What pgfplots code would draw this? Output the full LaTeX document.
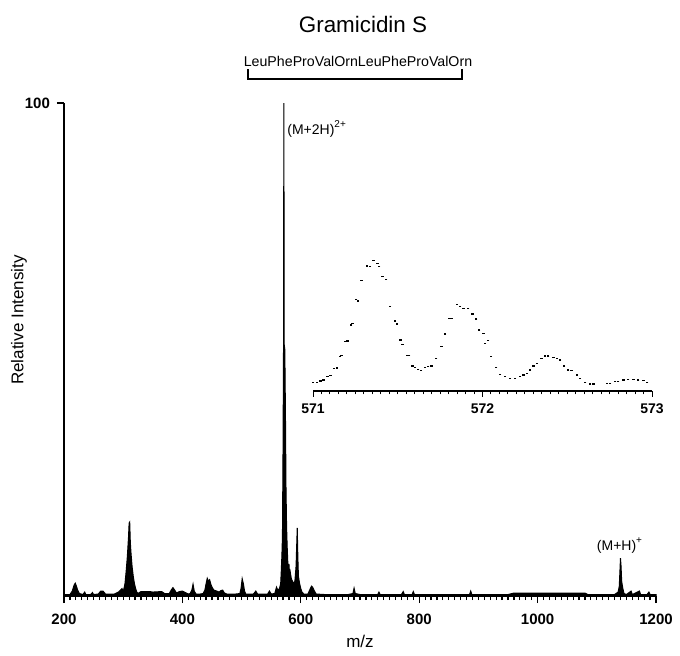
\documentclass[border=0pt]{standalone}
\usepackage{fontspec}
\setmainfont{Liberation Sans}
\usepackage{pgfplots}
\pgfplotsset{compat=1.18}
\begin{document}
\begin{tikzpicture}
\begin{axis}[
  at={(0,0)}, anchor=south west,
  scale only axis, width=296pt, height=246.5pt,
  xmin=200, xmax=1200, ymin=0, ymax=100,
  axis x line*=bottom, axis y line*=left,
  axis line style={line width=1pt},
  xtick={200,400,...,1200}, minor x tick num=19,
  ytick={100},
  tick align=outside,
  major tick length=3.5pt, minor tick length=2pt,
  every tick/.style={black, line width=0.6pt},
  /pgf/number format/1000 sep={},
  /pgf/number format/assume math mode=true,
  tick label style={font=\fontsize{7.5}{9}\selectfont\bfseries},
  xticklabel style={yshift=-2pt},
  clip=false,
]
\addplot[black, line width=0.5pt, fill=black, sharp plot] coordinates {
(200,0.3)(210,0.3)(214,1)(217,2.2)(219,2.6)(221,2)(223,1.2)(226,0.5)(232,0.3)(235,0.8)(237,0.3)
(245,0.3)(248,0.7)(250,0.3)(258,0.4)(262,1.0)(266,1.0)(270,0.4)(285,0.4)(292,0.8)(298,1.5)
(300,0.8)(303,2.5)(305,5)(307,8)(309,12)(310,14.8)(311,15)(312,11)(313,9)(315,6)(317,4)(319,2.5)(321,1.5)(323,0.8)(325,0.5)
(326,0.6)(330,0.9)(345,0.9)(350,0.8)(365,0.9)(370,0.5)
(378,0.5)(381,1.2)(384,1.7)(387,1.2)(390,0.6)(395,0.9)(400,1.0)(405,0.7)
(410,0.4)(413,0.5)(416,1.2)(418,2.4)(420,1.0)(423,0.4)(430,0.4)
(435,0.5)(438,1.2)(440,2.5)(442,3.6)(444,3.0)(446,3.3)(448,2.4)(450,1.8)(453,1.2)(458,1.0)(462,0.8)(465,1.1)(468,1.2)(471,0.6)
(475,0.4)(490,0.4)(497,0.5)(499,1.5)(501,3.5)(503,2.5)(505,1.0)(507,0.4)
(520,0.4)(524,1.0)(527,0.4)(544,0.4)(547,1.0)(550,0.4)
(556,0.5)(559,1.8)(561,1.2)(564,1.5)(566,2.5)(567,5)(568,8)(569,12)(570,30)(570.8,50)(571.4,100)(572,51)(573,50)(574,38)(575,22)(576,14)(577,10)
(578,7)(579,5.5)(580,6.5)(581,4.5)(582,5)(584,3.5)(586,3)(588,2.5)(590,3)(592,6)(593,10)(594,13.8)(595,8)(596,4)(598,2.5)(600,1.5)(602,0.8)(605,0.4)
(612,0.4)(615,1.2)(618,2)(620,1.8)(623,1)(626,0.4)(640,0.3)(660,0.3)(680,0.3)(688,0.5)(690,1.6)(692,0.5)(700,0.3)
(730,0.3)(732,0.8)(734,0.3)(770,0.3)(773,0.9)(775,0.3)(788,0.3)(790,0.9)(792,0.3)(850,0.3)(885,0.3)(887,1)(889,0.3)
(950,0.3)(960,0.6)(1080,0.6)(1085,0.3)(1130,0.3)(1136,0.8)(1138,2)(1140,7.7)(1141,6)(1142,3)(1144,1.5)(1146,0.5)(1150,0.3)
(1158,1)(1160,0.3)(1172,1)(1174,0.3)(1185,0.3)(1188,0.8)(1190,0.3)(1200,0.3)
} \closedcycle;
\end{axis}

\begin{axis}[
  at={(124.5pt,102.65pt)}, anchor=south west,
  scale only axis, width=169.5pt, height=66.7pt,
  xmin=571, xmax=573, ymin=0, ymax=400,
  axis x line*=bottom, axis y line=none,
  axis line style={line width=1pt},
  xtick={571,572,573}, minor x tick num=19,
  tick align=outside,
  major tick length=3pt, minor tick length=1.8pt,
  every tick/.style={black, line width=0.5pt},
  /pgf/number format/1000 sep={},
  /pgf/number format/assume math mode=true,
  tick label style={font=\fontsize{7}{8}\selectfont\bfseries},
  clip=false,
]
\addplot[only marks, mark=-, mark size=0.6pt, mark options={line width=0.7pt, black}] coordinates {
(571.00,24)(571.022,25)(571.045,29)(571.061,32)(571.085,42)(571.104,45)(571.124,67)(571.140,68)
(571.159,102)(571.169,105)(571.189,147)(571.203,149)(571.224,197)(571.232,202)(571.254,274)(571.264,269)
(571.287,330)(571.317,374)(571.336,372)(571.356,390)(571.380,382)(571.391,372)(571.411,342)(571.431,334)
(571.454,252)(571.484,209)(571.494,200)(571.517,152)(571.529,139)(571.553,105)(571.568,105)(571.588,74)
(571.602,70)(571.621,64)(571.637,60)(571.661,70)(571.680,72)(571.700,74)(571.726,97)(571.759,132)
(571.779,170)(571.804,217)(571.818,217)(571.848,259)(571.867,252)(571.887,247)(571.916,247)(571.942,230)
(571.962,215)(571.981,182)(572.005,172)(572.015,142)(572.034,150)(572.050,102)(572.080,69)(572.103,49)
(572.133,42)(572.162,37)(572.192,37)(572.221,42)(572.241,47)(572.261,52)(572.280,62)(572.300,74)
(572.320,82)(572.349,97)(572.369,104)(572.388,104)(572.418,100)(572.438,97)(572.457,92)(572.481,74)
(572.506,62)(572.526,60)(572.556,47)(572.575,37)(572.605,24)(572.634,20)(572.654,20)(572.733,22)
(572.752,22)(572.782,27)(572.801,27)(572.831,32)(572.860,34)(572.890,34)(572.919,32)(572.949,30)(572.972,24)
};
\end{axis}

% titles and annotations
\node[anchor=base, font=\fontsize{11.2}{13}\selectfont] at (149.5pt,282pt) {Gramicidin S};
\node[anchor=base, font=\fontsize{7.1}{8}\selectfont, inner sep=0pt] at (147pt,265pt) {LeuPheProValOrnLeuPheProValOrn};
\draw[line width=0.75pt] (92pt,263.5pt) -- (92pt,258.5pt) -- (199pt,258.5pt) -- (199pt,263.5pt);
\node[anchor=base west, font=\fontsize{7}{8}\selectfont, inner sep=0pt] at (111.5pt,231pt) {(M+2H)\textsuperscript{2+}};
\node[anchor=base, font=\fontsize{7}{8}\selectfont, inner sep=0pt] at (278pt,23pt) {(M+H)\textsuperscript{+}};
\node[rotate=90, font=\fontsize{8.5}{10}\selectfont] at (-22.5pt,138pt) {Relative Intensity};
\node[font=\fontsize{8.5}{10}\selectfont] at (148pt,-22.5pt) {m/z};
\pgfresetboundingbox
\path[use as bounding box] (-32pt,-29.5pt) rectangle (308pt,298pt);
\end{tikzpicture}
\end{document}
